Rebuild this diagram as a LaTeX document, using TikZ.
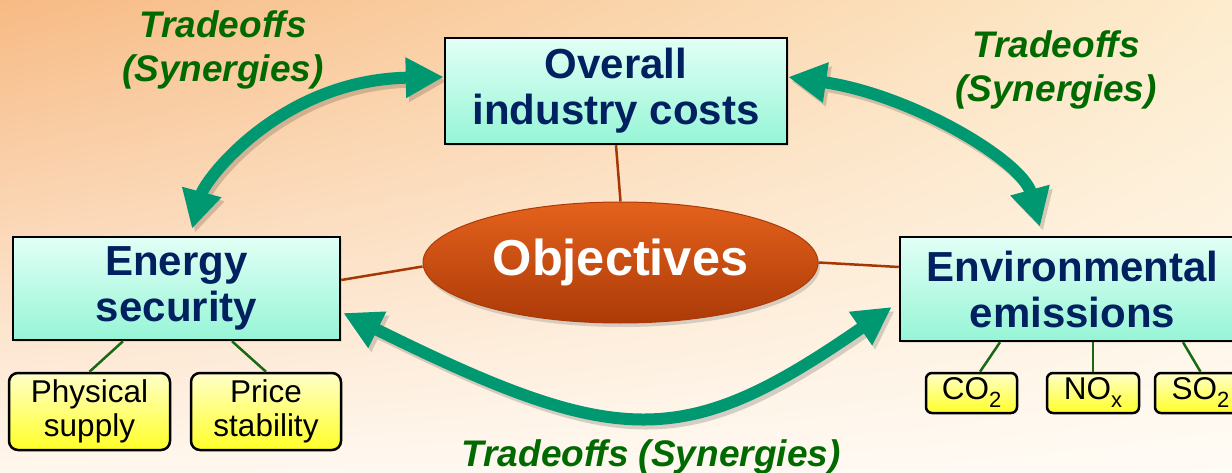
\documentclass[tikz,border=0pt]{standalone}
\usepackage{fontspec}
\setmainfont{Liberation Sans}
\usetikzlibrary{arrows.meta,shapes.geometric,shadows,shadings}
\definecolor{navy}{RGB}{0,32,96}
\definecolor{boxtop}{RGB}{226,255,246}
\definecolor{boxbot}{RGB}{150,245,214}
\definecolor{yelltop}{RGB}{255,255,200}
\definecolor{yellbot}{RGB}{255,255,40}
\definecolor{arrowgreen}{RGB}{0,152,112}
\definecolor{labelgreen}{RGB}{0,106,0}
\definecolor{brownline}{RGB}{165,55,5}
\definecolor{subgreen}{RGB}{25,105,20}
\definecolor{elltop}{RGB}{228,98,28}
\definecolor{ellbot}{RGB}{172,58,8}
\definecolor{bgul}{RGB}{247,186,132}
\definecolor{bgur}{RGB}{253,236,205}
\definecolor{bgll}{RGB}{255,247,238}
\definecolor{bglr}{RGB}{255,251,245}
\newcommand\lowsub[1]{\raisebox{-8pt}{\fontsize{22}{22}\selectfont #1}}
\begin{document}
\begin{tikzpicture}[x=1pt,y=1pt,
  mainbox/.style={draw=black, line width=2.5pt, top color=boxtop, bottom color=boxbot,
    inner sep=0pt, align=center, text=navy,
    font=\fontsize{42}{46}\selectfont\bfseries,
    drop shadow={shadow xshift=2pt, shadow yshift=-2pt, opacity=0.2}},
  subbox/.style={draw=black, line width=2.5pt, rounded corners=9pt, top color=yelltop,
    bottom color=yellbot, inner sep=0pt, align=center, text=black,
    font=\fontsize{31.5}{34}\selectfont},
  objstyle/.style={ellipse, draw=ellbot, line width=1pt, top color=elltop, bottom color=ellbot,
    inner sep=0pt, text=white, font=\fontsize{50.5}{56}\selectfont\bfseries,
    drop shadow={shadow xshift=2pt, shadow yshift=-4pt, opacity=0.3}},
  tradelabel/.style={text=labelgreen, align=center, inner sep=0pt,
    font=\fontsize{37}{44}\selectfont\bfseries\itshape},
  brownconn/.style={draw=brownline, line width=2.5pt},
  subconn/.style={draw=subgreen, line width=2.5pt},
  bigarrow/.style={line width=12pt, color=arrowgreen,
    arrows={Triangle[length=38pt,width=38pt]-Triangle[length=38pt,width=38pt]}}
]
\useasboundingbox (0,0) rectangle (1232,472);
\clip (0,0) rectangle (1232,472);
\shade[upper left=bgul, upper right=bgur, lower left=bgll, lower right=bglr]
  (0,0) rectangle (1232,472);

% nodes
\node[mainbox, minimum width=342pt, minimum height=106pt] (costs) at (616,381) {Overall\\industry costs};
\node[mainbox, minimum width=327pt, minimum height=103pt] (energy) at (176.5,183.5) {Energy\\security};
\node[mainbox, minimum width=345pt, minimum height=104pt] (env) at (1072.5,183) {Environmental\\emissions};
\node[objstyle, minimum width=395pt, minimum height=121pt] (obj) at (620.5,209.5) {Objectives};

\node[subbox, minimum width=161pt, minimum height=77pt] (phys) at (89.5,60.5) {Physical\\supply};
\node[subbox, minimum width=150pt, minimum height=77pt] (price) at (266,60.5) {Price\\stability};
\node[subbox, rounded corners=6pt, minimum width=91pt, minimum height=40pt] (co2) at (971.5,79) {CO\lowsub{2}};
\node[subbox, rounded corners=6pt, minimum width=92pt, minimum height=40pt] (nox) at (1093,79) {NO\lowsub{x}};
\node[subbox, rounded corners=6pt, minimum width=91pt, minimum height=40pt] (so2) at (1200.5,79) {SO\lowsub{2}};

% connectors to objectives
\draw[brownconn] (costs.south) -- (obj.north);
\draw[brownconn] ([yshift=8.5pt]energy.east) -- ([yshift=-4pt]obj.west);
\draw[brownconn] (obj.east) -- ([yshift=22pt]env.west);

% sub connectors
\draw[subconn] ([xshift=-53.5pt]energy.south) -- (phys.north);
\draw[subconn] ([xshift=55.5pt]energy.south) -- (price.north);
\draw[subconn] ([xshift=-72.5pt]env.south) -- ([xshift=8.5pt]co2.north);
\draw[subconn] ([xshift=20.5pt]env.south) -- (nox.north);
\draw[subconn] ([xshift=110.5pt]env.south) -- (so2.north);

% arrow shadows
\begin{scope}[transparency group, opacity=0.16, transform canvas={shift={(3pt,-4pt)}}]
\draw[bigarrow, color=black] ([xshift=15.5pt,yshift=7pt]energy.north) .. controls (205,292) and (280,392) .. ([yshift=14pt]costs.west);
\draw[bigarrow, color=black] ([yshift=14pt]costs.east) .. controls (912,377) and (1022,311) .. ([xshift=-32.5pt,yshift=9pt]env.north);
\draw[bigarrow, color=black] ([xshift=2pt,yshift=-24.5pt]energy.east) .. controls (620,22) and (685,22) .. ([xshift=-7pt,yshift=-18pt]env.west);
\end{scope}

% arrows
\draw[bigarrow] ([xshift=15.5pt,yshift=7pt]energy.north) .. controls (205,292) and (280,392) .. ([yshift=14pt]costs.west);
\draw[bigarrow] ([yshift=14pt]costs.east) .. controls (912,377) and (1022,311) .. ([xshift=-32.5pt,yshift=9pt]env.north);
\draw[bigarrow] ([xshift=2pt,yshift=-24.5pt]energy.east) .. controls (620,22) and (685,22) .. ([xshift=-7pt,yshift=-18pt]env.west);

% labels
\node[tradelabel] (tl) at (223,422) {Tradeoffs\\(Synergies)};
\node[tradelabel] (tr) at (1056,402) {Tradeoffs\\(Synergies)};
\node[tradelabel, anchor=base] (bl) at (651,6) {Tradeoffs (Synergies)};
\end{tikzpicture}
\end{document}
